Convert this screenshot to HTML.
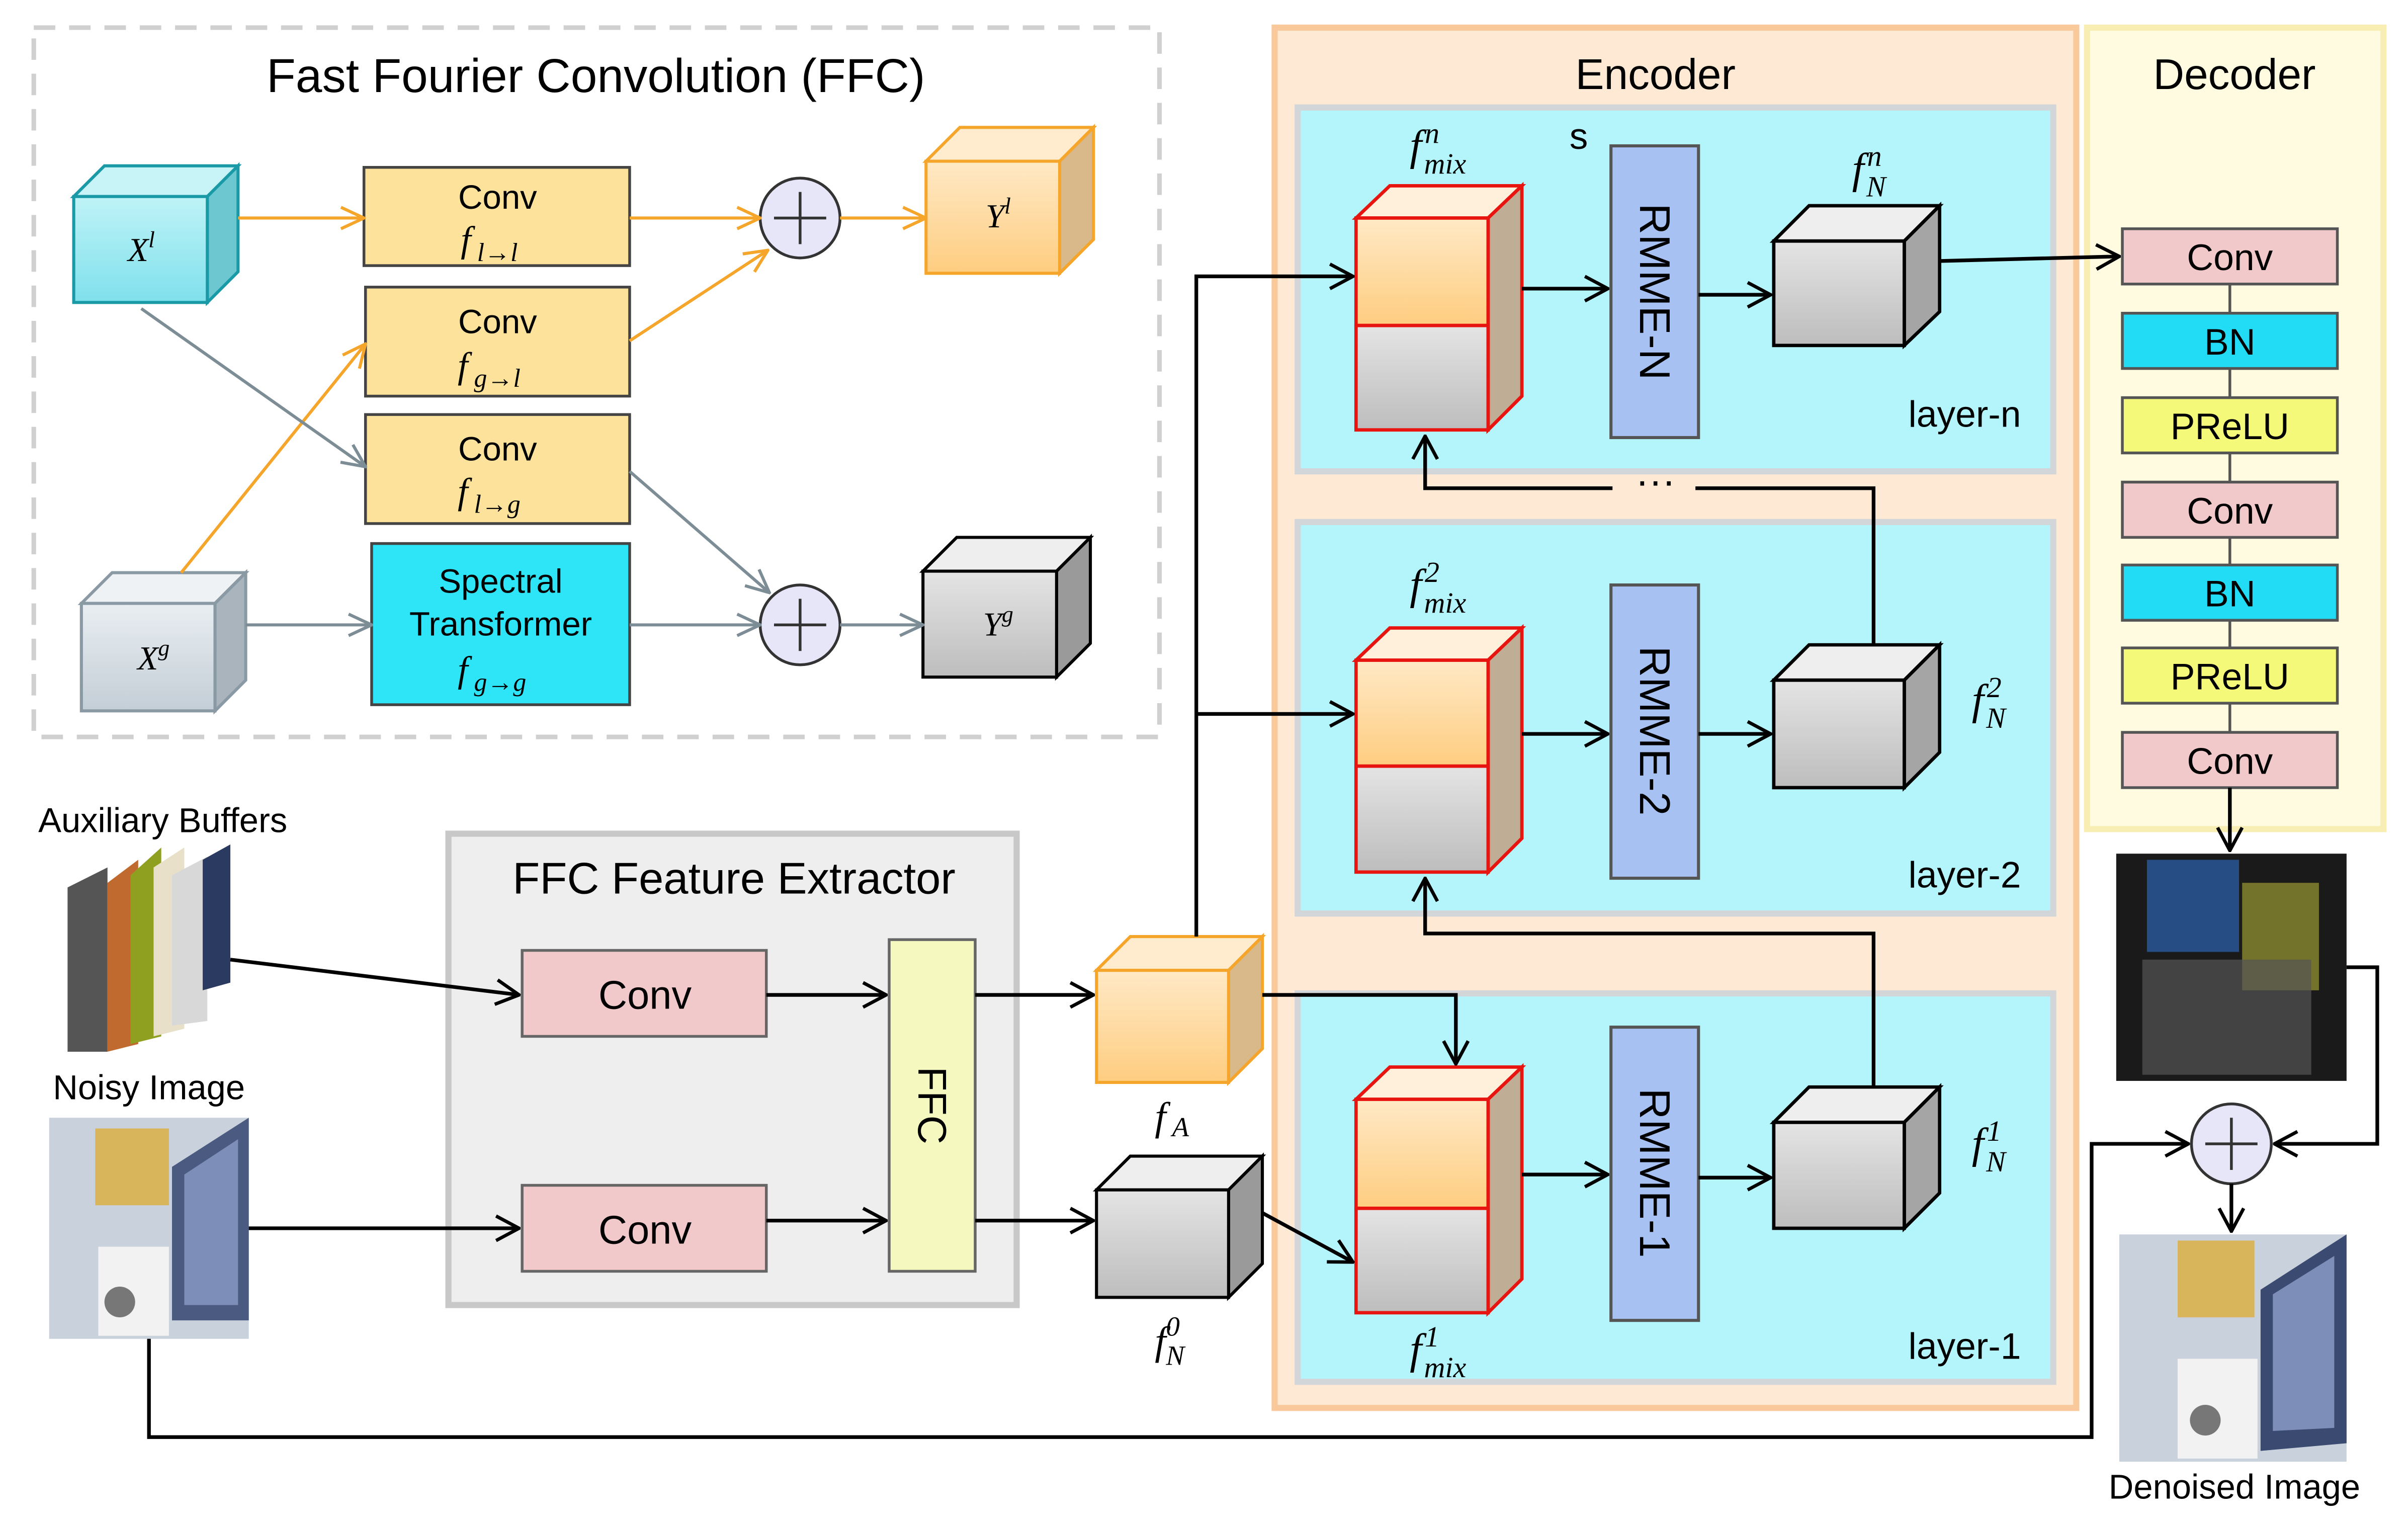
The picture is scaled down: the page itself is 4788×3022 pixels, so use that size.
<!DOCTYPE html>
<html><head><meta charset="utf-8"><style>html,body{margin:0;padding:0;background:#fff}svg{display:block}</style></head><body>
<svg width="4788" height="3022" viewBox="0 0 1568 990" preserveAspectRatio="none" xmlns="http://www.w3.org/2000/svg" font-family="Liberation Sans, sans-serif">
<defs>
<marker id="ak" viewBox="0 0 20 20" refX="19" refY="10" markerWidth="20" markerHeight="20" orient="auto" markerUnits="userSpaceOnUse"><path d="M4,2 L19,10 L4,18" fill="none" stroke="#000" stroke-width="2.2"/></marker>
<marker id="ao" viewBox="0 0 20 20" refX="19" refY="10" markerWidth="20" markerHeight="20" orient="auto" markerUnits="userSpaceOnUse"><path d="M4,3 L19,10 L4,17" fill="none" stroke="#f5a52a" stroke-width="2"/></marker>
<marker id="ag" viewBox="0 0 20 20" refX="19" refY="10" markerWidth="20" markerHeight="20" orient="auto" markerUnits="userSpaceOnUse"><path d="M4,3 L19,10 L4,17" fill="none" stroke="#7d8d96" stroke-width="2"/></marker>
<linearGradient id="go" x1="0" y1="0" x2="0" y2="1"><stop offset="0" stop-color="#ffe9c6"/><stop offset="1" stop-color="#fecd80"/></linearGradient>
<linearGradient id="gg" x1="0" y1="0" x2="0" y2="1"><stop offset="0" stop-color="#e4e4e4"/><stop offset="1" stop-color="#bdbdbd"/></linearGradient>
<linearGradient id="gt" x1="0" y1="0" x2="0" y2="1"><stop offset="0" stop-color="#bff3f7"/><stop offset="1" stop-color="#7fe0ec"/></linearGradient>
<linearGradient id="gx" x1="0" y1="0" x2="0" y2="1"><stop offset="0" stop-color="#e9eef2"/><stop offset="1" stop-color="#c4ced6"/></linearGradient>
</defs>

<rect x="22" y="18" width="733" height="462" fill="none" stroke="#d0d0d0" stroke-width="3" stroke-dasharray="14,9"/>
<text x="388" y="60" font-size="31" text-anchor="middle">Fast Fourier Convolution (FFC)</text>

<polygon points="48,128 68,108 155,108 135,128" fill="#c8f4f7" stroke="#1a9aa6" stroke-width="2"/>
<polygon points="135,128 155,108 155,177 135,197" fill="#6cc7d1" stroke="#1a9aa6" stroke-width="2"/>
<rect x="48" y="128" width="87" height="69" fill="url(#gt)" stroke="#1a9aa6" stroke-width="2"/>
<text x="92" y="170" font-size="22" font-family="Liberation Serif, serif" font-style="italic" text-anchor="middle">X<tspan font-size="15" dy="-9">l</tspan></text>
<polygon points="53,393 73,373 160,373 140,393" fill="#eef2f5" stroke="#8a9aa5" stroke-width="2"/>
<polygon points="140,393 160,373 160,443 140,463" fill="#a9b4bc" stroke="#8a9aa5" stroke-width="2"/>
<rect x="53" y="393" width="87" height="70" fill="url(#gx)" stroke="#8a9aa5" stroke-width="2"/>
<text x="100" y="436" font-size="22" font-family="Liberation Serif, serif" font-style="italic" text-anchor="middle">X<tspan font-size="15" dy="-9">g</tspan></text>
<polygon points="603,105 625,83 712,83 690,105" fill="#ffeccf" stroke="#f5a52a" stroke-width="2"/>
<polygon points="690,105 712,83 712,156 690,178" fill="#d9b88a" stroke="#f5a52a" stroke-width="2"/>
<rect x="603" y="105" width="87" height="73" fill="url(#go)" stroke="#f5a52a" stroke-width="2"/>
<text x="650" y="148" font-size="22" font-family="Liberation Serif, serif" font-style="italic" text-anchor="middle">Y<tspan font-size="15" dy="-9">l</tspan></text>
<polygon points="601,372 623,350 710,350 688,372" fill="#eeeeee" stroke="#000" stroke-width="2"/>
<polygon points="688,372 710,350 710,419 688,441" fill="#9a9a9a" stroke="#000" stroke-width="2"/>
<rect x="601" y="372" width="87" height="69" fill="url(#gg)" stroke="#000" stroke-width="2"/>
<text x="650" y="414" font-size="22" font-family="Liberation Serif, serif" font-style="italic" text-anchor="middle">Y<tspan font-size="15" dy="-9">g</tspan></text>

<g stroke="#444" stroke-width="1.8" fill="#fde29b">
<rect x="237" y="109" width="173" height="64"/>
<rect x="238" y="187" width="172" height="71"/>
<rect x="238" y="270" width="172" height="71"/>
</g>
<rect x="242" y="354" width="168" height="105" fill="#2ee5f8" stroke="#444" stroke-width="1.8"/>
<g font-size="22" text-anchor="middle">
<text x="324" y="136">Conv</text>
<text x="324" y="217">Conv</text>
<text x="324" y="300">Conv</text>
<text x="326" y="386">Spectral</text>
<text x="326" y="414">Transformer</text>
</g>
<g font-size="24" font-family="Liberation Serif, serif" font-style="italic">
<text x="300" y="164">f<tspan font-size="17" dx="4" dy="6">l→l</tspan></text>
<text x="298" y="246">f<tspan font-size="17" dx="4" dy="6">g→l</tspan></text>
<text x="298" y="328">f<tspan font-size="17" dx="4" dy="6">l→g</tspan></text>
<text x="298" y="444">f<tspan font-size="17" dx="4" dy="6">g→g</tspan></text>
</g>
<g fill="#e6e6f8" stroke="#333" stroke-width="1.8">
<circle cx="521" cy="142" r="26"/><circle cx="521" cy="407" r="26"/><circle cx="1453" cy="745" r="26"/>
</g>
<g stroke="#333" stroke-width="1.8">
<path d="M504,142 H538 M521,125 V159"/><path d="M504,407 H538 M521,390 V424"/><path d="M1436,745 H1470 M1453,728 V762"/>
</g>
<g fill="none" stroke="#f5a52a" stroke-width="2">
<path d="M155,142 H237" marker-end="url(#ao)"/>
<path d="M410,142 H495" marker-end="url(#ao)"/>
<path d="M547,142 H603" marker-end="url(#ao)"/>
<path d="M410,222 L500,163" marker-end="url(#ao)"/>
<path d="M118,373 L238,224" marker-end="url(#ao)"/>
</g>
<g fill="none" stroke="#7d8d96" stroke-width="2">
<path d="M92,201 L238,304" marker-end="url(#ag)"/>
<path d="M160,407 H242" marker-end="url(#ag)"/>
<path d="M410,407 H495" marker-end="url(#ag)"/>
<path d="M410,307 L501,386" marker-end="url(#ag)"/>
<path d="M547,407 H601" marker-end="url(#ag)"/>
</g>

<rect x="830" y="18" width="522" height="899" fill="#fde9d4" stroke="#f9c99c" stroke-width="4"/>
<text x="1078" y="58" font-size="28" text-anchor="middle">Encoder</text>
<rect x="1359" y="18" width="193" height="522" fill="#fefbe0" stroke="#f8eeb4" stroke-width="4"/>
<text x="1455" y="58" font-size="28" text-anchor="middle">Decoder</text>
<g fill="#b4f4fb" stroke="#d3d6d8" stroke-width="4">
<rect x="845" y="70" width="492" height="237"/>
<rect x="845" y="340" width="492" height="255"/>
<rect x="845" y="647" width="492" height="253"/>
</g>
<text x="1028" y="97" font-size="24" text-anchor="middle">s</text>

<rect x="292" y="543" width="370" height="307" fill="#eeeeee" stroke="#c8c8c8" stroke-width="4"/>
<text x="478" y="582" font-size="29" text-anchor="middle">FFC Feature Extractor</text>
<rect x="340" y="619" width="159" height="56" fill="#f2c9cb" stroke="#666" stroke-width="1.8"/>
<rect x="340" y="772" width="159" height="56" fill="#f2c9cb" stroke="#666" stroke-width="1.8"/>
<text x="420" y="657" font-size="26" text-anchor="middle">Conv</text>
<text x="420" y="810" font-size="26" text-anchor="middle">Conv</text>
<rect x="579" y="612" width="56" height="216" fill="#f5f9c0" stroke="#666" stroke-width="1.8"/>
<text transform="translate(598,720) rotate(90)" font-size="26" text-anchor="middle">FFC</text>

<polygon points="714,632 736,610 822,610 800,632" fill="#ffeccf" stroke="#f5a52a" stroke-width="2"/>
<polygon points="800,632 822,610 822,683 800,705" fill="#d9b88a" stroke="#f5a52a" stroke-width="2"/>
<rect x="714" y="632" width="86" height="73" fill="url(#go)" stroke="#f5a52a" stroke-width="2"/>
<polygon points="714,775 736,753 822,753 800,775" fill="#eeeeee" stroke="#000" stroke-width="2"/>
<polygon points="800,775 822,753 822,823 800,845" fill="#9a9a9a" stroke="#000" stroke-width="2"/>
<rect x="714" y="775" width="86" height="70" fill="url(#gg)" stroke="#000" stroke-width="2"/>
<g font-family="Liberation Serif, serif" font-style="italic" font-size="26">
<text x="752" y="736">f<tspan font-size="18" dx="4" dy="4">A</tspan></text>
<text x="752" y="882">f<tspan font-size="18" dx="0" dy="-12">0</tspan><tspan font-size="18" dx="-9" dy="19">N</tspan></text>
</g>

<g stroke="#e8140f" stroke-width="2.2">
<polygon points="883,142 905,121 991,121 969,142" fill="#fff0dc"/>
<polygon points="969,142 991,121 991,258 969,280" fill="#bfae95"/>
<rect x="883" y="142" width="86" height="70" fill="url(#go)"/>
<rect x="883" y="212" width="86" height="68" fill="url(#gg)"/>
<polygon points="883,430 905,409 991,409 969,430" fill="#fff0dc"/>
<polygon points="969,430 991,409 991,546 969,568" fill="#bfae95"/>
<rect x="883" y="430" width="86" height="69" fill="url(#go)"/>
<rect x="883" y="499" width="86" height="69" fill="url(#gg)"/>
<polygon points="883,716 905,695 991,695 969,716" fill="#fff0dc"/>
<polygon points="969,716 991,695 991,833 969,855" fill="#bfae95"/>
<rect x="883" y="716" width="86" height="71" fill="url(#go)"/>
<rect x="883" y="787" width="86" height="68" fill="url(#gg)"/>
</g>
<g fill="#a7c2f2" stroke="#555" stroke-width="2">
<rect x="1049" y="95" width="57" height="190"/>
<rect x="1049" y="381" width="57" height="191"/>
<rect x="1049" y="669" width="57" height="191"/>
</g>
<g font-size="28">
<text transform="translate(1068,190) rotate(90)" text-anchor="middle">RMME-N</text>
<text transform="translate(1068,476) rotate(90)" text-anchor="middle">RMME-2</text>
<text transform="translate(1068,764) rotate(90)" text-anchor="middle">RMME-1</text>
</g>
<g stroke="#000" stroke-width="2.2">
<polygon points="1155,157 1178,134 1263,134 1240,157" fill="#eeeeee"/>
<polygon points="1240,157 1263,134 1263,203 1240,225" fill="#a5a5a5"/>
<rect x="1155" y="157" width="85" height="68" fill="url(#gg)"/>
<polygon points="1155,443 1178,420 1263,420 1240,443" fill="#eeeeee"/>
<polygon points="1240,443 1263,420 1263,490 1240,513" fill="#a5a5a5"/>
<rect x="1155" y="443" width="85" height="70" fill="url(#gg)"/>
<polygon points="1155,731 1178,708 1263,708 1240,731" fill="#eeeeee"/>
<polygon points="1240,731 1263,708 1263,777 1240,800" fill="#a5a5a5"/>
<rect x="1155" y="731" width="85" height="69" fill="url(#gg)"/>
</g>
<g font-size="24" text-anchor="end">
<text x="1316" y="278">layer-n</text><text x="1316" y="578">layer-2</text><text x="1316" y="885">layer-1</text>
</g>
<g font-family="Liberation Serif, serif" font-style="italic" font-size="28">
<text x="918" y="104">f<tspan font-size="19" dx="2" dy="-11">n</tspan><tspan font-size="19" dx="-10" dy="20">mix</tspan></text>
<text x="1206" y="119">f<tspan font-size="19" dx="2" dy="-11">n</tspan><tspan font-size="19" dx="-10" dy="20">N</tspan></text>
<text x="918" y="390">f<tspan font-size="19" dx="2" dy="-11">2</tspan><tspan font-size="19" dx="-10" dy="20">mix</tspan></text>
<text x="1284" y="465">f<tspan font-size="19" dx="2" dy="-11">2</tspan><tspan font-size="19" dx="-10" dy="20">N</tspan></text>
<text x="1284" y="754">f<tspan font-size="19" dx="2" dy="-11">1</tspan><tspan font-size="19" dx="-10" dy="20">N</tspan></text>
<text x="918" y="888">f<tspan font-size="19" dx="2" dy="-11">1</tspan><tspan font-size="19" dx="-10" dy="20">mix</tspan></text>
</g>

<g stroke="#555" stroke-width="1.8">
<path d="M1452,185 V477" fill="none"/>
<rect x="1382" y="149" width="140" height="36" fill="#f2c9cb"/>
<rect x="1382" y="204" width="140" height="36" fill="#22dbf5"/>
<rect x="1382" y="259" width="140" height="36" fill="#f4f97a"/>
<rect x="1382" y="314" width="140" height="36" fill="#f2c9cb"/>
<rect x="1382" y="368" width="140" height="36" fill="#22dbf5"/>
<rect x="1382" y="422" width="140" height="36" fill="#f4f97a"/>
<rect x="1382" y="477" width="140" height="36" fill="#f2c9cb"/>
</g>
<g font-size="24" text-anchor="middle">
<text x="1452" y="176">Conv</text><text x="1452" y="231">BN</text><text x="1452" y="286">PReLU</text>
<text x="1452" y="341">Conv</text><text x="1452" y="395">BN</text><text x="1452" y="449">PReLU</text><text x="1452" y="504">Conv</text>
</g>

<text x="106" y="542" font-size="22.5" text-anchor="middle">Auxiliary Buffers</text>
<g>
<polygon points="44,578 70,565 70,685 44,685" fill="#555"/>
<polygon points="70,575 90,560 90,680 70,685" fill="#c06a30"/>
<polygon points="85,570 105,552 105,675 85,680" fill="#8fa020"/>
<polygon points="100,565 120,552 120,670 100,675" fill="#e8e0c8"/>
<polygon points="112,570 135,558 135,665 112,668" fill="#d8d8d8"/>
<polygon points="132,560 150,550 150,640 132,645" fill="#2a3a60"/>
</g>
<text x="97" y="716" font-size="22.5" text-anchor="middle">Noisy Image</text>
<rect x="32" y="728" width="130" height="144" fill="#c9d1dc"/>
<rect x="62" y="735" width="48" height="50" fill="#d8b45a"/>
<rect x="64" y="812" width="46" height="58" fill="#f2f2f2"/>
<circle cx="78" cy="848" r="10" fill="#777"/>
<polygon points="112,760 162,728 162,860 112,860" fill="#4a5a80"/>
<polygon points="120,765 155,742 155,850 120,850" fill="#7d8fb8"/>
<rect x="1378" y="556" width="150" height="148" fill="#1a1a1a"/>
<rect x="1398" y="560" width="60" height="60" fill="#2a5aa0" opacity="0.8"/>
<rect x="1460" y="575" width="50" height="70" fill="#8a8a30" opacity="0.8"/>
<rect x="1395" y="625" width="110" height="75" fill="#555" opacity="0.7"/>
<rect x="1380" y="804" width="148" height="148" fill="#c9d1dc"/>
<rect x="1418" y="808" width="50" height="50" fill="#d8b45a"/>
<rect x="1418" y="885" width="52" height="65" fill="#f2f2f2"/>
<circle cx="1436" cy="925" r="10" fill="#777"/>
<polygon points="1472,840 1528,804 1528,940 1472,945" fill="#3a4a70"/>
<polygon points="1480,843 1520,818 1520,930 1480,932" fill="#7d8fb8"/>
<text x="1455" y="976" font-size="22.5" text-anchor="middle">Denoised Image</text>

<g fill="none" stroke="#000" stroke-width="2.4">
<path d="M150,625 L338,648" marker-end="url(#ak)"/>
<path d="M162,800 H338" marker-end="url(#ak)"/>
<path d="M499,648 H577" marker-end="url(#ak)"/>
<path d="M499,795 H577" marker-end="url(#ak)"/>
<path d="M635,648 H712" marker-end="url(#ak)"/>
<path d="M635,795 H712" marker-end="url(#ak)"/>
<path d="M779,610 V180 H881" marker-end="url(#ak)"/>
<path d="M779,465 H881" marker-end="url(#ak)"/>
<path d="M822,648 H948 V693" marker-end="url(#ak)"/>
<path d="M822,790 L881,822" marker-end="url(#ak)"/>
<path d="M991,188 H1047" marker-end="url(#ak)"/>
<path d="M1106,192 H1153" marker-end="url(#ak)"/>
<path d="M991,478 H1047" marker-end="url(#ak)"/>
<path d="M1106,478 H1153" marker-end="url(#ak)"/>
<path d="M991,765 H1047" marker-end="url(#ak)"/>
<path d="M1106,767 H1153" marker-end="url(#ak)"/>
<path d="M1263,170 L1380,167" marker-end="url(#ak)"/>
<path d="M1220,708 V608 H928 V572" marker-end="url(#ak)"/>
<path d="M1220,420 V318 H1104 M1050,318 H928 V284" marker-end="url(#ak)"/>
<path d="M1452,513 V554" marker-end="url(#ak)"/>
<path d="M1528,630 H1548 V745 H1481" marker-end="url(#ak)"/>
<path d="M1453,771 V802" marker-end="url(#ak)"/>
<path d="M97,872 V936 H1362 V745 H1425" marker-end="url(#ak)"/>
</g>
<text x="1078" y="322" font-size="26" text-anchor="middle">···</text>
</svg>
</body></html>
